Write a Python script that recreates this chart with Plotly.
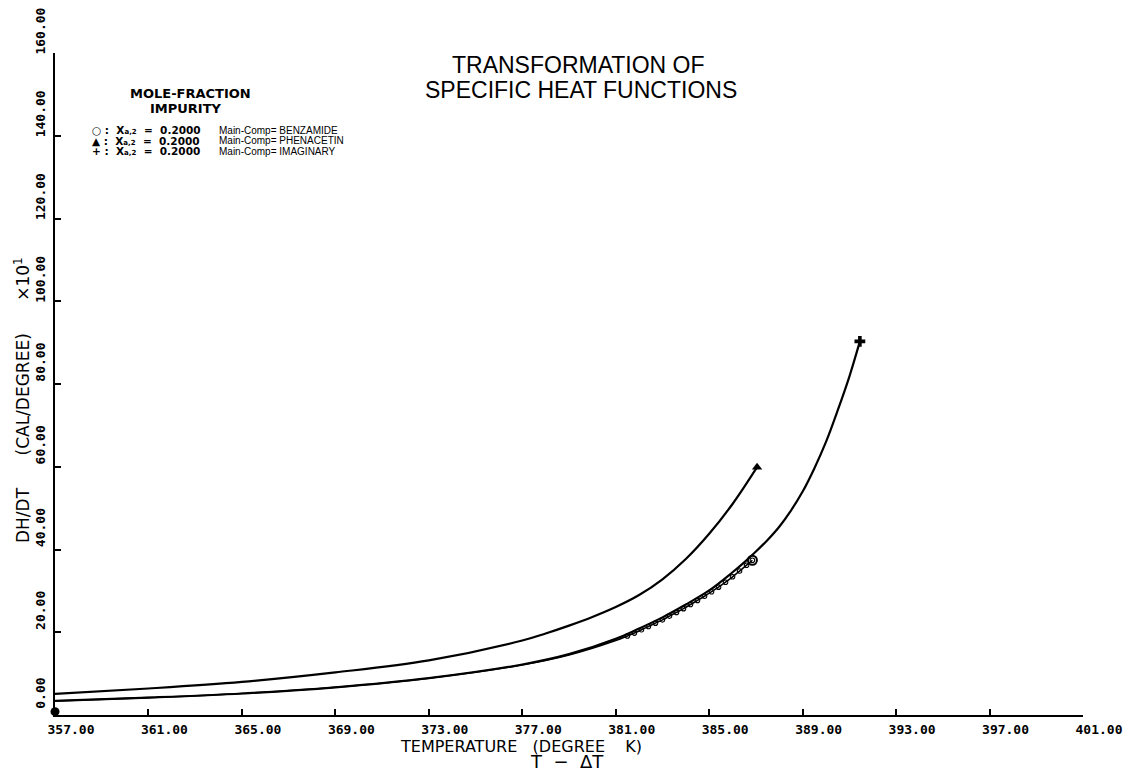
import plotly.graph_objects as go

# ---- data ----
x_ticks = [357, 361, 365, 369, 373, 377, 381, 385, 389, 393, 397, 401]
x_tick_labels = ["357.00", "361.00", "365.00", "369.00", "373.00", "377.00",
                 "381.00", "385.00", "389.00", "393.00", "397.00", "401.00"]
y_ticks = [0, 20, 40, 60, 80, 100, 120, 140, 160]
y_tick_labels = ["0.00", "20.00", "40.00", "60.00", "80.00", "100.00",
                 "120.00", "140.00", "160.00"]

# PHENACETIN (triangle) - upper curve
phen_x = [357, 361, 365, 369, 373, 377, 378, 379, 380, 381, 382, 383, 384, 385, 386, 387.05]
phen_y = [5.1, 6.4, 8.0, 10.3, 13.2, 18.0, 19.7, 21.6, 23.7, 26.1, 29.0, 32.8, 37.7, 43.8,
          51.0, 59.9]

# BENZAMIDE (circle)
benz_x = [357, 361, 365, 369, 373, 377, 379, 381, 381.5, 381.8, 382.1, 382.4, 382.7,
          383.0, 383.3, 383.6, 383.9, 384.2, 384.5, 384.8, 385.1, 385.4, 385.7, 386.0,
          386.3, 386.6, 386.85]
benz_y = [3.4, 4.2, 5.2, 6.7, 8.9, 12.1, 14.5, 18.0, 19.1, 19.8, 20.6, 21.4, 22.2,
          23.0, 23.9, 24.8, 25.7, 26.7, 27.7, 28.7, 29.8, 30.9, 32.1, 33.4,
          34.8, 36.2, 37.4]

# IMAGINARY (plus) - long curve
imag_x = [357, 361, 365, 369, 373, 377, 379, 381, 382, 383, 384, 385, 386, 386.5, 387,
          387.5, 388, 388.5, 389, 389.5, 390, 390.5, 391, 391.45]
imag_y = [3.4, 4.2, 5.2, 6.7, 8.9, 12.2, 14.7, 18.4, 20.9, 23.6, 26.7, 30.1, 34.5, 36.9, 39.5,
          42.3, 45.5, 49.4, 54.0, 59.6, 66.0, 73.6, 81.8, 90.3]

start_x = [357.0]
start_y = [0.8]

legend_names = ["BENZAMIDE", "PHENACETIN", "IMAGINARY"]
legend_symbols = ["○", "▲", "+"]
mole_fraction = ["0.2000", "0.2000", "0.2000"]

# ---- figure ----
line = dict(color="black", width=2.2)
fig = go.Figure()

fig.add_trace(go.Scatter(x=phen_x, y=phen_y, mode="lines", line=line, line_shape="spline"))
fig.add_trace(go.Scatter(x=imag_x, y=imag_y, mode="lines", line=line, line_shape="spline"))
fig.add_trace(go.Scatter(x=benz_x, y=benz_y, mode="lines", line=dict(color="black", width=1.6),
                         line_shape="spline"))

chain_x = [x for x in benz_x if x >= 381.5]
chain_y = [y for x, y in zip(benz_x, benz_y) if x >= 381.5]
fig.add_trace(go.Scatter(x=chain_x, y=chain_y, mode="markers",
                         marker=dict(symbol="circle-open", size=4.5, color="black",
                                     line=dict(width=1.1, color="black"))))

fig.add_trace(go.Scatter(x=[phen_x[-1]], y=[phen_y[-1]], mode="markers",
                         marker=dict(symbol="triangle-up", size=9, color="black")))
fig.add_trace(go.Scatter(x=[benz_x[-1]], y=[benz_y[-1]], mode="markers",
                         marker=dict(symbol="circle-open", size=9, color="black",
                                     line=dict(width=2, color="black"))))
fig.add_trace(go.Scatter(x=[imag_x[-1]], y=[imag_y[-1]], mode="markers",
                         marker=dict(symbol="cross", size=9, color="black")))
fig.add_trace(go.Scatter(x=start_x, y=start_y, mode="markers", cliponaxis=False,
                         marker=dict(symbol="circle", size=9, color="black")))

tickfont = dict(family="DejaVu Sans Mono", size=13, color="black", weight="bold")

fig.update_xaxes(range=[357, 401], tickvals=x_ticks, ticktext=x_tick_labels,
                 showline=True, linecolor="black", linewidth=2, ticks="inside",
                 ticklen=6, tickwidth=2, tickcolor="black", tickfont=tickfont,
                 showgrid=False, zeroline=False, ticklabelshift=16, ticklabelstandoff=1,
                 automargin=False)
fig.update_yaxes(range=[0, 160], tickvals=y_ticks, ticktext=y_tick_labels,
                 showline=True, linecolor="black", linewidth=2, ticks="inside",
                 ticklen=6, tickwidth=2, tickcolor="black", tickfont=tickfont,
                 tickangle=-90, showgrid=False, zeroline=False,
                 ticklabelshift=-20, ticklabelstandoff=3, automargin=False)


def px(xp):
    return (xp - 55) / 1028


def py(yp):
    return (715 - yp) / 662


ann = []
title_font = dict(family="Liberation Sans", size=23, color="black")
ann.append(dict(x=px(578), y=py(65), xref="paper", yref="paper", showarrow=False,
                text="TRANSFORMATION OF", font=title_font,
                xanchor="center", yanchor="middle"))
ann.append(dict(x=px(581), y=py(90), xref="paper", yref="paper", showarrow=False,
                text="SPECIFIC HEAT FUNCTIONS", font=title_font,
                xanchor="center", yanchor="middle"))

head_font = dict(family="DejaVu Sans", size=13, color="black", weight="bold")
ann.append(dict(x=px(190), y=py(93), xref="paper", yref="paper",
                showarrow=False, text="MOLE-FRACTION", font=head_font,
                xanchor="center", yanchor="middle"))
ann.append(dict(x=px(186), y=py(109), xref="paper", yref="paper",
                showarrow=False, text="IMPURITY", font=head_font,
                xanchor="center", yanchor="middle"))
for i, (sym, mf, name) in enumerate(zip(legend_symbols, mole_fraction, legend_names)):
    ry = 130 + i * 10.5
    ann.append(dict(x=px(90), y=py(ry), xref="paper", yref="paper",
                    showarrow=False,
                    text=f"{sym} :  X<span style='font-size:7px'>a,2</span>  =  {mf}",
                    font=dict(family="DejaVu Sans", size=10.5, color="black", weight="bold"),
                    xanchor="left", yanchor="middle"))
    ann.append(dict(x=px(217), y=py(ry), xref="paper", yref="paper",
                    showarrow=False,
                    text=f"Main-Comp= {name}",
                    font=dict(family="Liberation Sans", size=10, color="black"),
                    xanchor="left", yanchor="middle"))

ann.append(dict(x=px(398), y=py(746), xref="paper", yref="paper",
                showarrow=False, text="TEMPERATURE   (DEGREE    K)",
                font=dict(family="DejaVu Sans", size=16, color="black"),
                xanchor="left", yanchor="middle"))
ann.append(dict(x=px(567), y=py(761), xref="paper", yref="paper",
                showarrow=False, text="T  −  ΔT",
                font=dict(family="DejaVu Sans", size=18, color="black"),
                xanchor="center", yanchor="middle"))
ann.append(dict(x=px(22), y=py(400), xref="paper", yref="paper",
                showarrow=False, text="DH/DT      (CAL/DEGREE)      ×10<sup>1</sup>",
                textangle=-90,
                font=dict(family="DejaVu Sans", size=17, color="black"),
                xanchor="center", yanchor="middle"))

fig.update_layout(width=1134, height=770, showlegend=False,
                  margin=dict(l=55, r=51, t=53, b=55),
                  plot_bgcolor="white", paper_bgcolor="white",
                  annotations=ann)

fig.write_html("out.html")
